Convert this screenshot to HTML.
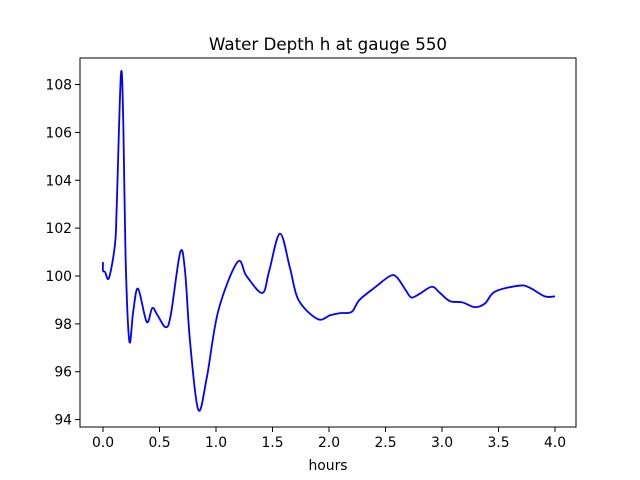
<!DOCTYPE html>
<html><head><meta charset="utf-8"><style>
body{margin:0;background:#fff}
svg{display:block;font-family:"DejaVu Sans","Liberation Sans",sans-serif}
</style></head><body>
<svg id="chart" width="640" height="480" xmlns="http://www.w3.org/2000/svg">
<rect width="640" height="480" fill="#fff"/>
<text x="328" y="50" font-size="16.7" text-anchor="middle">Water Depth h at gauge 550</text>
<g id="xticks"></g>
<g id="yticks"></g>
<path id="line" fill="none" stroke="#0000ff" stroke-width="1.8" stroke-linejoin="round"/>
<rect x="80" y="58" width="496" height="369" fill="none" stroke="#000" stroke-width="1"/>
<text x="328" y="470" font-size="13.9" text-anchor="middle">hours</text>
</svg>
<script>
const hours=[0,0,0.018,0.053,0.106,0.121,0.159,0.18,0.2,0.233,0.268,0.31,0.387,0.436,0.48,0.555,0.6,0.684,0.726,0.77,0.843,0.918,1.02,1.19,1.27,1.41,1.47,1.566,1.655,1.73,1.9,2.01,2.1,2.2,2.27,2.4,2.54,2.6,2.68,2.73,2.8,2.91,2.98,3.07,3.18,3.29,3.38,3.47,3.69,3.78,3.91,4.0];
const depth=[100.58,100.22,100.17,99.92,101.31,102.84,108.44,106.32,100.75,97.28,98.54,99.47,98.08,98.66,98.38,97.86,98.38,101.0,100.2,97.27,94.41,95.74,98.54,100.58,100.0,99.29,100.2,101.77,100.33,99.0,98.2,98.36,98.45,98.5,99.0,99.5,100.0,99.95,99.4,99.1,99.25,99.55,99.3,98.95,98.9,98.7,98.85,99.35,99.6,99.5,99.15,99.15];
const xTickVals=[0,0.5,1,1.5,2,2.5,3,3.5,4];
const xTickLabels=["0.0","0.5","1.0","1.5","2.0","2.5","3.0","3.5","4.0"];
const yTickVals=[94,96,98,100,102,104,106,108];
const yTickLabels=["94","96","98","100","102","104","106","108"];
const X=v=>103+v*113, Y=v=>276-(v-100)*23.93;
const NS="http://www.w3.org/2000/svg";
const xg=document.getElementById('xticks'), yg=document.getElementById('yticks');
xTickVals.forEach((v,i)=>{
 const l=document.createElementNS(NS,'line');
 
 
 l.setAttribute('x1',X(v));l.setAttribute('x2',X(v));l.setAttribute('y1',427);l.setAttribute('y2',432);l.setAttribute('stroke','#000');
 xg.appendChild(l);
 const t=document.createElementNS(NS,'text');
 
 
 t.setAttribute('x',X(v));t.setAttribute('y',447);t.setAttribute('font-size','13.9');t.setAttribute('text-anchor','middle');
 t.textContent=xTickLabels[i];xg.appendChild(t);
});
yTickVals.forEach((v,i)=>{
 const l=document.createElementNS(NS,'line');
 
 
 l.setAttribute('x1',75);l.setAttribute('x2',80);l.setAttribute('y1',Y(v));l.setAttribute('y2',Y(v));l.setAttribute('stroke','#000');
 yg.appendChild(l);
 const t=document.createElementNS(NS,'text');
 
 
 t.setAttribute('x',72);t.setAttribute('y',Y(v)+5);t.setAttribute('font-size','13.9');t.setAttribute('text-anchor','end');
 t.textContent=yTickLabels[i];yg.appendChild(t);
});
const P=hours.map((h,i)=>[X(h),Y(depth[i])]);
let d='M'+P[0][0]+','+P[0][1];
for(let i=0;i<P.length-1;i++){
 const p0=P[Math.max(0,i-1)],p1=P[i],p2=P[i+1],p3=P[Math.min(P.length-1,i+2)];
 const c1=[p1[0]+(p2[0]-p0[0])/6,p1[1]+(p2[1]-p0[1])/6];
 const c2=[p2[0]-(p3[0]-p1[0])/6,p2[1]-(p3[1]-p1[1])/6];
 d+=` C${c1[0]},${c1[1]} ${c2[0]},${c2[1]} ${p2[0]},${p2[1]}`;
}
document.getElementById('line').setAttribute('d',d);
</script>
</body></html>
